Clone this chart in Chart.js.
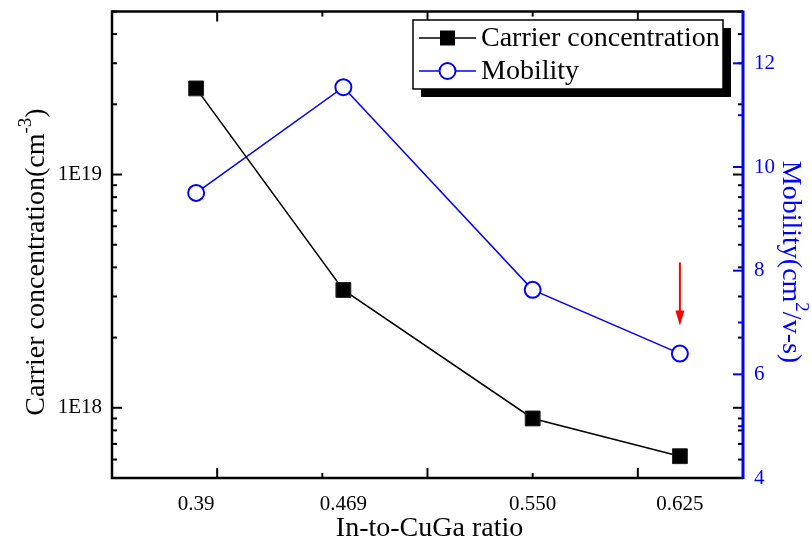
<!DOCTYPE html>
<html lang="en">
<head>
<meta charset="UTF-8">
<title>Carrier concentration / Mobility</title>
<script src="https://cdn.jsdelivr.net/npm/chart.js"></script>
<style>
  body { margin: 0; background: #fff; }
  #wrap { width: 812px; height: 547px; }
</style>
</head>
<body>
<div id="wrap"><canvas id="chart" width="812" height="547"></canvas></div>
<script>
// data
const xPos = [0.39, 0.46, 0.55, 0.62];              // where the points sit on the ratio axis
const xLabels = ['0.39', '0.469', '0.550', '0.625']; // text printed under them
const carrier = [2.34e19, 3.2e18, 9.0e17, 6.2e17];  // cm^-3
const mobility = [9.5, 11.54, 7.63, 6.4];           // cm2/v-s
const leftLabels = [1e18, 1e19];
const rightLabels = [4, 6, 8, 10, 12];
const xTicks = [0.35, 0.40, 0.45, 0.50, 0.55, 0.60, 0.65];
const xMajor = [0.40, 0.50, 0.60];
const arrowFrom = 8.16, arrowTo = 6.94; // red arrow over the last mobility point

const FONT = '"Liberation Serif", "Times New Roman", serif';
const BLUE = '#0000ff';

// minor ticks of the log axis (2..9 x 10^n)
const logTicks = [];
for (let e = 17; e <= 19; e++) {
  for (let m = 1; m <= 9; m++) {
    const v = m * Math.pow(10, e);
    if (v >= 5e17 && v <= 5e19) logTicks.push(v);
  }
}

// text with a superscript piece, centred on 0,0 of the current transform
function drawParts(ctx, parts) {
  let total = 0;
  parts.forEach(p => {
    ctx.font = p.size + 'px ' + FONT;
    p.w = ctx.measureText(p.t).width;
    total += p.w;
  });
  let x = -total / 2;
  ctx.textAlign = 'left';
  ctx.textBaseline = 'middle';
  parts.forEach(p => {
    ctx.font = p.size + 'px ' + FONT;
    ctx.fillText(p.t, x, p.dy || 0);
    x += p.w;
  });
}

// keep the plot box fixed: no extra room for half labels
function fixV(w) {
  return s => { s.width = w; s.paddingTop = 0; s.paddingBottom = 0; };
}

const frame = {
  id: 'frame',
  afterDraw(chart) {
    const { ctx, chartArea: a, scales } = chart;
    const sx = scales.x, sy = scales.y, sy2 = scales.y2;
    const seg = (x1, y1, x2, y2) => { ctx.beginPath(); ctx.moveTo(x1, y1); ctx.lineTo(x2, y2); ctx.stroke(); };
    ctx.save();

    // inward tick marks
    ctx.lineWidth = 2;
    ctx.strokeStyle = '#000';
    logTicks.forEach(v => {
      const py = sy.getPixelForValue(v);
      const len = leftLabels.includes(v) ? 10 : 5;
      seg(a.left, py, a.left + len, py);
      seg(a.right, py, a.right - len, py);
    });
    xTicks.forEach(v => {
      const px = sx.getPixelForValue(v);
      const len = xMajor.includes(v) ? 10 : 5;
      seg(px, a.bottom, px, a.bottom - len);
      seg(px, a.top, px, a.top + len);
    });
    ctx.strokeStyle = BLUE;
    for (let v = 5; v <= 12; v++) {
      const py = sy2.getPixelForValue(v);
      seg(a.right, py, a.right - (v % 2 === 0 ? 10 : 5), py);
    }

    // frame
    ctx.lineWidth = 2.5;
    ctx.strokeStyle = '#000';
    ctx.beginPath();
    ctx.moveTo(a.right, a.top);
    ctx.lineTo(a.left, a.top);
    ctx.lineTo(a.left, a.bottom);
    ctx.lineTo(a.right, a.bottom);
    ctx.stroke();
    ctx.strokeStyle = BLUE;
    ctx.lineWidth = 3;
    seg(a.right, a.top - 1, a.right, a.bottom + 1);

    // axis titles
    ctx.fillStyle = '#000';
    ctx.save();
    ctx.translate(37, 262);
    ctx.rotate(-Math.PI / 2);
    drawParts(ctx, [
      { t: 'Carrier concentration(cm', size: 28 },
      { t: '-3', size: 19, dy: -11 },
      { t: ')', size: 28 }
    ]);
    ctx.restore();

    ctx.fillStyle = BLUE;
    ctx.save();
    ctx.translate(790, 262);
    ctx.rotate(Math.PI / 2);
    drawParts(ctx, [
      { t: 'Mobility(cm', size: 28 },
      { t: '2', size: 19, dy: -11 },
      { t: '/v-s)', size: 28 }
    ]);
    ctx.restore();

    ctx.fillStyle = '#000';
    ctx.font = '28px ' + FONT;
    ctx.textAlign = 'center';
    ctx.textBaseline = 'middle';
    ctx.fillText('In-to-CuGa ratio', (a.left + a.right) / 2 + 2, 529);

    // red arrow
    const ax = sx.getPixelForValue(xPos[3]);
    const ay1 = sy2.getPixelForValue(arrowFrom);
    const ay2 = sy2.getPixelForValue(arrowTo);
    ctx.strokeStyle = '#ff0000';
    ctx.fillStyle = '#ff0000';
    ctx.lineWidth = 2;
    seg(ax, ay1, ax, ay2 - 12);
    ctx.beginPath();
    ctx.moveTo(ax - 4.5, ay2 - 15);
    ctx.lineTo(ax + 4.5, ay2 - 15);
    ctx.lineTo(ax, ay2);
    ctx.closePath();
    ctx.fill();

    // legend with drop shadow
    const lx = 413, ly = 20, lw = 310, lh = 69;
    ctx.fillStyle = '#000';
    ctx.fillRect(lx + 8, ly + 8, lw, lh);
    ctx.fillStyle = '#fff';
    ctx.fillRect(lx, ly, lw, lh);
    ctx.lineWidth = 1.5;
    ctx.strokeStyle = '#000';
    ctx.strokeRect(lx, ly, lw, lh);

    const ds = chart.data.datasets;
    const rows = [38, 71];
    ds.forEach((d, i) => {
      const ry = rows[i];
      ctx.strokeStyle = d.borderColor;
      ctx.lineWidth = 1.5;
      seg(lx + 6, ry, lx + 63, ry);
      if (d.pointStyle === 'rect') {
        ctx.fillStyle = '#000';
        ctx.fillRect(lx + 27, ry - 7.5, 15, 15);
      } else {
        ctx.beginPath();
        ctx.arc(lx + 34.5, ry, 8, 0, Math.PI * 2);
        ctx.fillStyle = '#fff';
        ctx.fill();
        ctx.lineWidth = 2;
        ctx.stroke();
      }
      ctx.fillStyle = '#000';
      ctx.font = '28px ' + FONT;
      ctx.textAlign = 'left';
      ctx.textBaseline = 'middle';
      ctx.fillText(d.label, lx + 68, ry + 1);
    });

    ctx.restore();
  }
};

new Chart(document.getElementById('chart'), {
  type: 'line',
  data: {
    datasets: [
      {
        label: 'Carrier concentration',
        data: xPos.map((x, i) => ({ x: x, y: carrier[i] })),
        yAxisID: 'y',
        borderColor: '#000',
        borderWidth: 1.5,
        pointStyle: 'rect',
        pointRadius: 10.5,
        pointBackgroundColor: '#000',
        pointBorderColor: '#222',
        pointBorderWidth: 1
      },
      {
        label: 'Mobility',
        data: xPos.map((x, i) => ({ x: x, y: mobility[i] })),
        yAxisID: 'y2',
        borderColor: BLUE,
        borderWidth: 1.5,
        pointStyle: 'circle',
        pointRadius: 8,
        pointBackgroundColor: '#fff',
        pointBorderColor: BLUE,
        pointBorderWidth: 2
      }
    ]
  },
  options: {
    responsive: false,
    animation: false,
    layout: { padding: { top: 10, left: 0, right: 0, bottom: 0 } },
    plugins: { legend: { display: false }, tooltip: { enabled: false } },
    scales: {
      x: {
        type: 'linear',
        min: 0.35,
        max: 0.65,
        grid: { display: false, drawTicks: false },
        border: { display: false },
        afterBuildTicks: s => { s.ticks = xPos.map(v => ({ value: v })); },
        ticks: {
          callback: (v, i) => xLabels[i],
          font: { family: FONT, size: 21 },
          color: '#000',
          padding: 14,
          maxRotation: 0,
          autoSkip: false
        },
        afterFit: s => { s.height = 69; s.paddingLeft = 0; s.paddingRight = 0; }
      },
      y: {
        type: 'logarithmic',
        position: 'left',
        min: 5e17,
        max: 5e19,
        grid: { display: false, drawTicks: false },
        border: { display: false },
        afterBuildTicks: s => { s.ticks = leftLabels.map(v => ({ value: v })); },
        ticks: {
          callback: v => '1E' + Math.round(Math.log10(v)),
          font: { family: FONT, size: 21 },
          color: '#000',
          padding: 10
        },
        afterFit: fixV(112)
      },
      y2: {
        type: 'linear',
        position: 'right',
        min: 4,
        max: 13,
        grid: { display: false, drawTicks: false },
        border: { display: false },
        afterBuildTicks: s => { s.ticks = rightLabels.map(v => ({ value: v })); },
        ticks: {
          font: { family: FONT, size: 21 },
          color: BLUE,
          padding: 11
        },
        afterFit: fixV(69)
      }
    }
  },
  plugins: [frame]
});
</script>
</body>
</html>
